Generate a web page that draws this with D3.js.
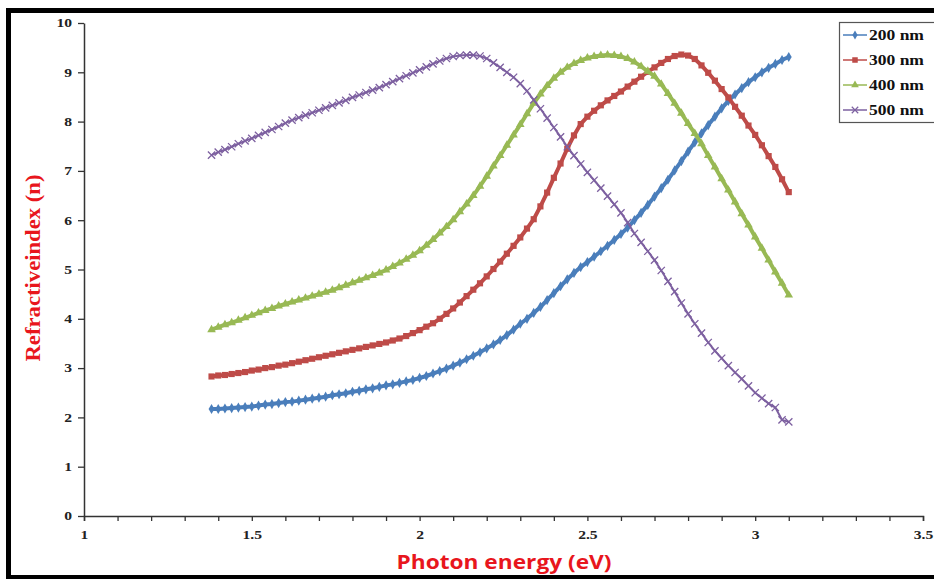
<!DOCTYPE html>
<meta charset="utf-8">
<title>Refractive index vs photon energy</title>
<style>
body { margin: 0; background: #fff; }
.tick text { font-family: "Liberation Serif", serif; font-weight: bold; font-size: 12px; fill: #222; }
.legend text { font-family: "Liberation Serif", serif; font-weight: bold; font-size: 14px; fill: #111; }
</style>
<body>
<script src="https://cdnjs.cloudflare.com/ajax/libs/d3/7.8.5/d3.min.js"></script>
<script>

// photon energy (eV), shared by all four films
var energy = [
  1.38,1.40,1.42,1.44,1.46,1.48,1.50,1.52,1.54,1.56,
  1.58,1.60,1.62,1.64,1.66,1.68,1.70,1.72,1.74,1.76,
  1.78,1.80,1.82,1.84,1.86,1.88,1.90,1.92,1.94,1.96,
  1.98,2.00,2.02,2.04,2.06,2.08,2.10,2.12,2.14,2.16,
  2.18,2.20,2.22,2.24,2.26,2.28,2.30,2.32,2.34,2.36,
  2.38,2.40,2.42,2.44,2.46,2.48,2.50,2.52,2.54,2.56,
  2.58,2.60,2.62,2.64,2.66,2.68,2.70,2.72,2.74,2.76,
  2.78,2.80,2.82,2.84,2.86,2.88,2.90,2.92,2.94,2.96,
  2.98,3.00,3.02,3.04,3.06,3.08,3.10
];

// refractive index n for each thickness
var n200 = [
  2.17,2.17,2.18,2.19,2.20,2.21,2.22,2.24,2.26,2.27,
  2.29,2.31,2.32,2.34,2.36,2.38,2.40,2.42,2.45,2.47,
  2.49,2.52,2.54,2.57,2.59,2.62,2.65,2.67,2.70,2.73,
  2.76,2.80,2.84,2.89,2.94,2.99,3.05,3.11,3.18,3.25,
  3.32,3.40,3.48,3.57,3.67,3.78,3.90,4.00,4.12,4.24,
  4.38,4.52,4.66,4.80,4.93,5.05,5.15,5.26,5.37,5.48,
  5.60,5.72,5.85,6.00,6.15,6.31,6.48,6.65,6.82,7.01,
  7.20,7.39,7.58,7.76,7.93,8.10,8.27,8.42,8.55,8.68,
  8.80,8.90,9.00,9.09,9.17,9.25,9.31
];
var n300 = [
  2.83,2.85,2.86,2.88,2.90,2.92,2.95,2.97,3.00,3.02,
  3.05,3.07,3.10,3.13,3.16,3.19,3.22,3.25,3.28,3.31,
  3.34,3.37,3.40,3.43,3.46,3.49,3.52,3.56,3.60,3.65,
  3.71,3.77,3.84,3.91,4.00,4.10,4.21,4.33,4.46,4.59,
  4.72,4.86,5.01,5.16,5.32,5.48,5.65,5.83,6.02,6.28,
  6.56,6.86,7.15,7.45,7.72,7.95,8.10,8.22,8.33,8.43,
  8.52,8.61,8.71,8.81,8.91,9.01,9.10,9.19,9.27,9.33,
  9.36,9.34,9.27,9.14,8.99,8.83,8.66,8.49,8.30,8.12,
  7.92,7.73,7.52,7.30,7.08,6.83,6.57
];
var n400 = [
  3.78,3.83,3.88,3.92,3.97,4.02,4.07,4.12,4.17,4.21,
  4.26,4.30,4.34,4.38,4.42,4.46,4.50,4.54,4.58,4.63,
  4.68,4.73,4.78,4.83,4.88,4.93,4.99,5.06,5.13,5.21,
  5.29,5.38,5.49,5.61,5.74,5.87,6.01,6.17,6.33,6.50,
  6.69,6.89,7.10,7.31,7.52,7.73,7.94,8.16,8.37,8.56,
  8.73,8.88,9.00,9.10,9.18,9.24,9.29,9.32,9.34,9.35,
  9.34,9.32,9.28,9.21,9.12,9.02,8.92,8.76,8.57,8.37,
  8.17,7.96,7.76,7.55,7.31,7.08,6.84,6.61,6.37,6.13,
  5.90,5.66,5.43,5.19,4.95,4.72,4.48
];
var n500 = [
  7.32,7.38,7.43,7.49,7.55,7.61,7.66,7.72,7.78,7.84,
  7.90,7.97,8.03,8.08,8.13,8.18,8.23,8.28,8.33,8.38,
  8.43,8.49,8.54,8.59,8.64,8.69,8.75,8.81,8.87,8.93,
  8.99,9.05,9.11,9.17,9.23,9.28,9.32,9.34,9.35,9.35,
  9.33,9.28,9.19,9.10,9.00,8.90,8.77,8.62,8.44,8.26,
  8.07,7.88,7.69,7.49,7.31,7.14,6.97,6.81,6.65,6.49,
  6.32,6.15,5.95,5.73,5.55,5.37,5.19,4.98,4.76,4.55,
  4.32,4.10,3.90,3.71,3.52,3.35,3.20,3.05,2.91,2.78,
  2.64,2.50,2.39,2.28,2.20,1.95,1.91
];

var seriesNames = ["200 nm", "300 nm", "400 nm", "500 nm"];
var xTickLabels = ["1", "1.5", "2", "2.5", "3", "3.5"];

var series = [
  {name: seriesNames[0], values: n200, color: "#4a7ebb", symbol: d3.symbolDiamond, size: 30, stroke: false},
  {name: seriesNames[1], values: n300, color: "#be4b48", symbol: d3.symbolSquare, size: 38, stroke: false},
  {name: seriesNames[2], values: n400, color: "#98b954", symbol: d3.symbolTriangle, size: 32, stroke: false},
  {name: seriesNames[3], values: n500, color: "#7d60a0", symbol: d3.symbolX, size: 36, stroke: true}
];

var width = 934, height = 579;

var svg = d3.select("body").append("svg")
    .attr("width", width)
    .attr("height", height);

// scales
var x = d3.scaleLinear().domain([1, 3.5]).range([84, 923]);
var y = d3.scaleLinear().domain([0, 10]).range([516, 23]);

// stretch text a bit wider, the picture is squashed sideways
function stretch(sel, k) {
  sel.each(function() {
    var w = this.getComputedTextLength();
    d3.select(this).attr("textLength", w * k).attr("lengthAdjust", "spacingAndGlyphs");
  });
}

// x axis
var xAxis = svg.append("g")
    .attr("transform", "translate(0," + y(0) + ")")
    .call(d3.axisBottom(x)
      .tickValues(d3.range(1, 3.51, 0.1))
      .tickSize(5)
      .tickFormat(function(d) {
        var i = Math.round((d - 1) * 2 * 1000) / 1000;
        return Number.isInteger(i) ? xTickLabels[i] : "";
      }));
xAxis.select(".domain").attr("stroke", "#333").attr("stroke-width", 1.5);
xAxis.selectAll(".tick line").attr("stroke", "#333").attr("stroke-width", 1.3);
xAxis.selectAll(".tick text").attr("y", 14);
stretch(xAxis.selectAll(".tick text"), 1.3);

// y axis
var yAxis = svg.append("g")
    .attr("transform", "translate(" + x(1) + ",0)")
    .call(d3.axisLeft(y).ticks(10).tickSize(6).tickSizeOuter(0));
yAxis.select(".domain").attr("stroke", "#333").attr("stroke-width", 1.5);
yAxis.selectAll(".tick line").attr("stroke", "#333").attr("stroke-width", 1.3);
yAxis.selectAll(".tick text").attr("x", -12);
stretch(yAxis.selectAll(".tick text"), 1.3);

// series: a line with markers on every reading
var line = d3.line()
    .x(function(d) { return x(d[0]); })
    .y(function(d) { return y(d[1]); });

series.forEach(function(s) {
  var pts = energy.map(function(e, i) { return [e, s.values[i]]; });
  var g = svg.append("g");
  g.append("path")
      .datum(pts)
      .attr("fill", "none")
      .attr("stroke", s.color)
      .attr("stroke-width", s.stroke ? 2 : 4)
      .attr("d", line);
  g.selectAll("path.mark")
      .data(pts)
    .enter().append("path")
      .attr("class", "mark")
      .attr("transform", function(d) { return "translate(" + x(d[0]) + "," + y(d[1]) + ")"; })
      .attr("d", d3.symbol().type(s.symbol).size(s.size))
      .attr("fill", s.stroke ? "none" : s.color)
      .attr("stroke", s.stroke ? s.color : "none")
      .attr("stroke-width", 1.3);
});

// legend
var legend = svg.append("g").attr("class", "legend");
legend.append("rect")
    .attr("x", 839.5).attr("y", 22.5)
    .attr("width", 110).attr("height", 100)
    .attr("fill", "#fff")
    .attr("stroke", "#555")
    .attr("stroke-width", 1.2);

series.forEach(function(s, i) {
  var ly = 35 + i * 25;
  legend.append("line")
      .attr("x1", 843).attr("x2", 867)
      .attr("y1", ly).attr("y2", ly)
      .attr("stroke", s.color)
      .attr("stroke-width", 1.5);
  legend.append("path")
      .attr("transform", "translate(855," + ly + ")")
      .attr("d", d3.symbol().type(s.symbol).size(s.size * 0.8))
      .attr("fill", s.stroke ? "none" : s.color)
      .attr("stroke", s.stroke ? s.color : "none")
      .attr("stroke-width", 1.2);
  legend.append("text")
      .attr("x", 869)
      .attr("y", ly + 5)
      .text(s.name);
});
stretch(legend.selectAll("text"), 1.25);

// axis titles
svg.append("text")
    .attr("x", 504)
    .attr("y", 569)
    .attr("text-anchor", "middle")
    .style("font-family", "'Open Sans', sans-serif")
    .style("font-weight", "bold")
    .style("font-size", "20px")
    .style("fill", "#e8161d")
    .attr("textLength", 215)
    .attr("lengthAdjust", "spacingAndGlyphs")
    .text("Photon energy (eV)");

svg.append("text")
    .attr("transform", "translate(40,268) rotate(-90)")
    .attr("text-anchor", "middle")
    .style("font-family", "'Liberation Serif', serif")
    .style("font-weight", "bold")
    .style("font-size", "21px")
    .style("fill", "#e8161d")
    .attr("textLength", 187)
    .attr("lengthAdjust", "spacingAndGlyphs")
    .text("Refractiveindex (n)");

// outer frame, right side runs off the picture
svg.append("rect")
    .attr("x", 8.5).attr("y", 10.5)
    .attr("width", 940).attr("height", 567)
    .attr("fill", "none")
    .attr("stroke", "#000")
    .attr("stroke-width", 5);

</script>
</body>
